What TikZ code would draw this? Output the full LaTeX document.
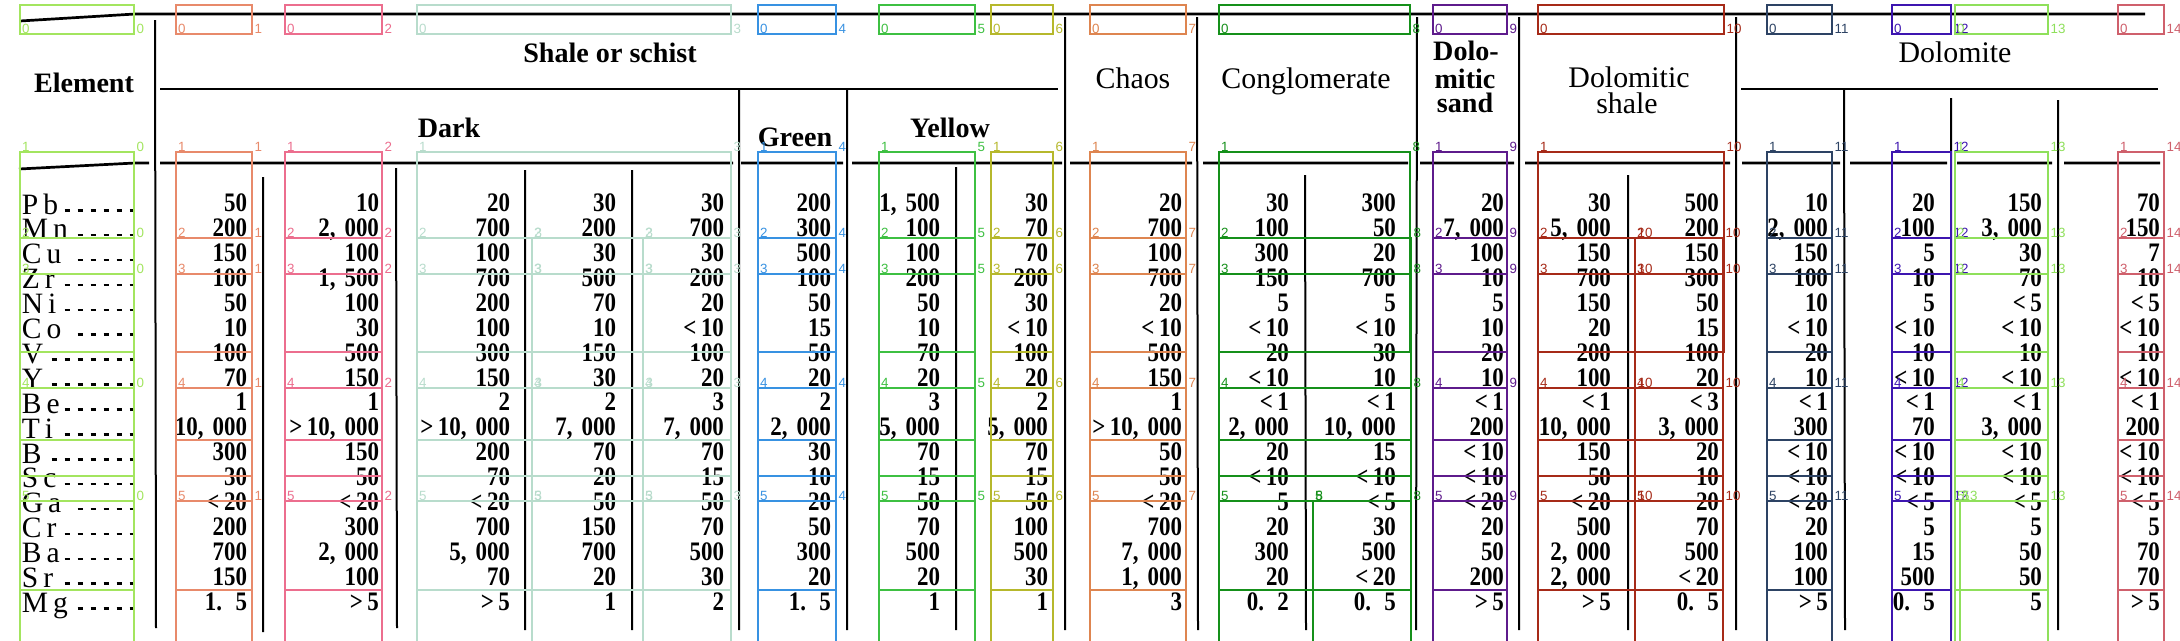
\documentclass[tikz,border=0pt]{standalone}
\usepackage{fontspec}
\setmainfont{Liberation Serif}
\newfontfamily\numfont[FakeStretch=0.86]{Liberation Serif}
\newfontfamily\tagfont{Liberation Sans}
\usetikzlibrary{matrix}
\definecolor{c0}{HTML}{A3E55F}
\definecolor{c1}{HTML}{E88A6B}
\definecolor{c2}{HTML}{EC6E8E}
\definecolor{c3}{HTML}{B8DCCC}
\definecolor{c4}{HTML}{3892E2}
\definecolor{c5}{HTML}{3EC042}
\definecolor{c6}{HTML}{B6B82C}
\definecolor{c7}{HTML}{DE8550}
\definecolor{c8}{HTML}{15901A}
\definecolor{c9}{HTML}{5E1B8C}
\definecolor{c10}{HTML}{A62A18}
\definecolor{c11}{HTML}{2D4364}
\definecolor{c12}{HTML}{3D15B0}
\definecolor{c13}{HTML}{8FE05B}
\definecolor{c14}{HTML}{CF606C}
\tikzset{
	rule/.style={line width=0.27mm},
	thinrule/.style={line width=0.2mm},
	headbold/.style={font=\bfseries\fontsize{8}{9}\selectfont, inner sep=0pt, anchor=base},
	headtext/.style={font=\fontsize{8.5}{9}\selectfont, inner sep=0pt, anchor=base},
	elem/.style={font=\fontsize{8.4}{9}\selectfont, inner sep=0pt, text height=1.9mm, text depth=0.59mm},
	datum/.style={font=\numfont\bfseries\fontsize{7.6}{8}\selectfont, inner sep=0pt, text height=1.9mm, text depth=0.59mm, align=right},
	cellbox/.style={line width=0.28mm},
	tagtext/.style={font=\tagfont\fontsize{3.8}{4}\selectfont, inner sep=0pt, anchor=base west}
}
\newcommand{\leader}[1]{\makebox[12.8mm][l]{#1\leaders\hbox to 1.3mm{\hss\rule[0.25mm]{0.55mm}{0.26mm}\hss}\hfill}}
\newcommand{\tagbox}[7]{% colour, left, right, top, bottom, row, column
	\draw[cellbox, #1] (#2,#4) rectangle (#3,#5);
	\node[tagtext, text=#1] (tag-#6-#7-l) at (#2+1.5,#4-1) {#6};
	\node[tagtext, text=#1] (tag-#6-#7-r) at (#3+2,#4-1) {#7};
}
\newcommand{\tagtop}[4]{% colour, left, right, column
	\draw[cellbox, #1] (#2,5) rectangle (#3,34);
	\node[tagtext, text=#1] (tag-0-#4-l) at (#2+1.5,33) {0};
	\node[tagtext, text=#1] (tag-0-#4-r) at (#3+2,33) {#4};
}
\newcommand{\tagcol}[4]{
	\tagtop{#1}{#2}{#3}{#4}
	\tagbox{#1}{#2}{#3}{152}{352}{1}{#4}
}
\newcommand{\tagmid}[4]{
	\tagbox{#1}{#2}{#3}{238}{440}{2}{#4}
	\tagbox{#1}{#2}{#3}{274}{476}{3}{#4}
	\tagbox{#1}{#2}{#3}{388}{590}{4}{#4}
}
\newcommand{\taglast}[4]{
	\tagbox{#1}{#2}{#3}{501}{650}{5}{#4}
}
\begin{document}
\begin{tikzpicture}[x=0.1mm, y=-0.1mm, ampersand replacement=\&]
	\fill[white] (0,0) rectangle (2180,640);
	\useasboundingbox (0,0) rectangle (2180,640);

	% Rules of the table are drawn
	\draw[rule] (20,21) -- (135,14) -- (2145,14);
	\draw[rule] (19,169) -- (135,163) -- (149,163)
		(160,163) -- (733,163) (741,163) -- (843,163) (852,163) -- (1062,163)
		(1070,163) -- (1192,163) (1203,163) -- (1408,163) (1420,163) -- (1514,163)
		(1525,163) -- (1730,163) (1742,163) -- (1840,163) (1850,163) -- (1947,163)
		(1957,163) -- (2052,163) (2064,163) -- (2160,163);
	\draw[rule] (160,89) -- (1058,89) (1741,89) -- (2158,89);
	\draw[thinrule] (155,20) -- (156,628) (263,177) -- (263,632) (396,168) -- (397,628)
		(525,170) -- (525,630) (632,170) -- (632,630) (739,90) -- (739,630)
		(847,90) -- (847,630) (956,167) -- (956,630) (1065,17) -- (1065,630)
		(1197,17) -- (1198,630) (1305,175) -- (1306,630) (1417,17) -- (1416,630)
		(1519,17) -- (1519,630) (1628,175) -- (1628,630) (1736,17) -- (1736,630)
		(1844,90) -- (1845,630) (1951,98) -- (1951,630) (2058,100) -- (2058,630);

	% Column heads
	\node[headbold] (element-head) at (84,92) {Element};
	\node[headbold] (shale-head) at (610,62) {Shale or schist};
	\node[headbold] (dark-head) at (449,137) {Dark};
	\node[headbold] (green-head) at (795,146) {Green};
	\node[headbold] (yellow-head) at (950,137) {Yellow};
	\node[headtext] (chaos-head) at (1133,88) {Chaos};
	\node[headtext] (congl-head) at (1306,88) {Conglomerate};
	\node[headbold] (dsand-head-1) at (1466,60) {Dolo-};
	\node[headbold] (dsand-head-2) at (1465,88) {mitic};
	\node[headbold] (dsand-head-3) at (1465,112) {sand};
	\node[headtext] (dshale-head-1) at (1629,87) {Dolomitic};
	\node[headtext] (dshale-head-2) at (1627,113) {shale};
	\node[headtext] (dolomite-head) at (1955,62) {Dolomite};

	% Elements
	\matrix (element) [matrix of nodes, anchor=north west, inner sep=0pt, outer sep=0pt,
			row sep=0pt, nodes=elem] at (22,195) {
		\leader{P\,b} \\ \leader{M\,n} \\ \leader{C\,u} \\ \leader{Z\,r} \\ \leader{N\,i} \\ %element-1-1 to 5-1
		\leader{C\,o} \\ \leader{V} \\ \leader{Y} \\ \leader{B\,e} \\ \leader{T\,i} \\ %element-6-1 to 10-1
		\leader{B} \\ \leader{S\,c} \\ \leader{G\,a} \\ \leader{C\,r} \\ \leader{B\,a} \\ %element-11-1 to 15-1
		\leader{S\,r} \\ \leader{M\,g} \\ %element-16-1 to 17-1
	};

	% Values
	\matrix (values) [matrix of nodes, anchor=north west, inner sep=0pt, outer sep=0pt,
			row sep=0pt, column sep=0pt, nodes=datum,
			column 1/.style={nodes={text width=8.7mm}}, column 2/.style={nodes={text width=13.2mm}},
			column 3/.style={nodes={text width=13.1mm}}, column 4/.style={nodes={text width=10.6mm}},
			column 5/.style={nodes={text width=10.8mm}}, column 6/.style={nodes={text width=10.7mm}},
			column 7/.style={nodes={text width=10.9mm}}, column 8/.style={nodes={text width=10.8mm}},
			column 9/.style={nodes={text width=13.4mm}}, column 10/.style={nodes={text width=10.7mm}},
			column 11/.style={nodes={text width=10.7mm}}, column 12/.style={nodes={text width=10.8mm}},
			column 13/.style={nodes={text width=10.7mm}}, column 14/.style={nodes={text width=10.8mm}},
			column 15/.style={nodes={text width=10.9mm}}, column 16/.style={nodes={text width=10.7mm}},
			column 17/.style={nodes={text width=10.7mm}}, column 18/.style={nodes={text width=11.8mm}}]
			at (160,192.7) {
		50 \& 10 \& 20 \& 30 \& 30 \& 200 \& 1, 500 \& 30 \& 20 \& 30 \& 300 \& 20 \& 30 \& 500 \& 10 \& 20 \& 150 \& 70 \\ %Pb
		200 \& 2, 000 \& 700 \& 200 \& 700 \& 300 \& 100 \& 70 \& 700 \& 100 \& 50 \& 7, 000 \& 5, 000 \& 200 \& 2, 000 \& 100 \& 3, 000 \& 150 \\ %Mn
		150 \& 100 \& 100 \& 30 \& 30 \& 500 \& 100 \& 70 \& 100 \& 300 \& 20 \& 100 \& 150 \& 150 \& 150 \& 5 \& 30 \& 7 \\ %Cu
		100 \& 1, 500 \& 700 \& 500 \& 200 \& 100 \& 200 \& 200 \& 700 \& 150 \& 700 \& 10 \& 700 \& 300 \& 100 \& 10 \& 70 \& 10 \\ %Zr
		50 \& 100 \& 200 \& 70 \& 20 \& 50 \& 50 \& 30 \& 20 \& 5 \& 5 \& 5 \& 150 \& 50 \& 10 \& 5 \& <\,5 \& <\,5 \\ %Ni
		10 \& 30 \& 100 \& 10 \& <\,10 \& 15 \& 10 \& <\,10 \& <\,10 \& <\,10 \& <\,10 \& 10 \& 20 \& 15 \& <\,10 \& <\,10 \& <\,10 \& <\,10 \\ %Co
		100 \& 500 \& 300 \& 150 \& 100 \& 50 \& 70 \& 100 \& 500 \& 20 \& 30 \& 20 \& 200 \& 100 \& 20 \& 10 \& 10 \& 10 \\ %V
		70 \& 150 \& 150 \& 30 \& 20 \& 20 \& 20 \& 20 \& 150 \& <\,10 \& 10 \& 10 \& 100 \& 20 \& 10 \& <\,10 \& <\,10 \& <\,10 \\ %Y
		1 \& 1 \& 2 \& 2 \& 3 \& 2 \& 3 \& 2 \& 1 \& <\,1 \& <\,1 \& <\,1 \& <\,1 \& <\,3 \& <\,1 \& <\,1 \& <\,1 \& <\,1 \\ %Be
		10, 000 \& >\,10, 000 \& >\,10, 000 \& 7, 000 \& 7, 000 \& 2, 000 \& 5, 000 \& 5, 000 \& >\,10, 000 \& 2, 000 \& 10, 000 \& 200 \& 10, 000 \& 3, 000 \& 300 \& 70 \& 3, 000 \& 200 \\ %Ti
		300 \& 150 \& 200 \& 70 \& 70 \& 30 \& 70 \& 70 \& 50 \& 20 \& 15 \& <\,10 \& 150 \& 20 \& <\,10 \& <\,10 \& <\,10 \& <\,10 \\ %B
		30 \& 50 \& 70 \& 20 \& 15 \& 10 \& 15 \& 15 \& 50 \& <\,10 \& <\,10 \& <\,10 \& 50 \& 10 \& <\,10 \& <\,10 \& <\,10 \& <\,10 \\ %Sc
		<\,20 \& <\,20 \& <\,20 \& 50 \& 50 \& 20 \& 50 \& 50 \& <\,20 \& 5 \& <\,5 \& <\,20 \& <\,20 \& 20 \& <\,20 \& <\,5 \& <\,5 \& <\,5 \\ %Ga
		200 \& 300 \& 700 \& 150 \& 70 \& 50 \& 70 \& 100 \& 700 \& 20 \& 30 \& 20 \& 500 \& 70 \& 20 \& 5 \& 5 \& 5 \\ %Cr
		700 \& 2, 000 \& 5, 000 \& 700 \& 500 \& 300 \& 500 \& 500 \& 7, 000 \& 300 \& 500 \& 50 \& 2, 000 \& 500 \& 100 \& 15 \& 50 \& 70 \\ %Ba
		150 \& 100 \& 70 \& 20 \& 30 \& 20 \& 20 \& 30 \& 1, 000 \& 20 \& <\,20 \& 200 \& 2, 000 \& <\,20 \& 100 \& 500 \& 50 \& 70 \\ %Sr
		1. 5 \& >\,5 \& >\,5 \& 1 \& 2 \& 1. 5 \& 1 \& 1 \& 3 \& 0. 2 \& 0. 5 \& >\,5 \& >\,5 \& 0. 5 \& >\,5 \& 0. 5 \& 5 \& >\,5 \\ %Mg
	};

	% Detected cells are drawn over the table
	\tagcol{c0}{20}{134}{0} \tagmid{c0}{20}{134}{0} \taglast{c0}{20}{134}{0}
	\tagcol{c1}{176}{252}{1} \tagmid{c1}{176}{252}{1} \taglast{c1}{176}{252}{1}
	\tagcol{c2}{285}{382}{2} \tagmid{c2}{285}{382}{2} \taglast{c2}{285}{382}{2}
	% Dark cells split in three from row 2
	\tagcol{c3}{417}{731}{3}
	\tagmid{c3}{417}{532}{3} \tagmid{c3}{532}{643}{3} \tagmid{c3}{643}{731}{3}
	\taglast{c3}{417}{532}{3} \taglast{c3}{532}{643}{3} \taglast{c3}{643}{731}{3}
	\tagcol{c4}{758}{836}{4} \tagmid{c4}{758}{836}{4} \taglast{c4}{758}{836}{4}
	\tagcol{c5}{879}{975}{5} \tagmid{c5}{879}{975}{5} \taglast{c5}{879}{975}{5}
	\tagcol{c6}{991}{1053}{6} \tagmid{c6}{991}{1053}{6} \taglast{c6}{991}{1053}{6}
	\tagcol{c7}{1090}{1186}{7} \tagmid{c7}{1090}{1186}{7} \taglast{c7}{1090}{1186}{7}
	% Conglomerate cell split in row 5
	\tagcol{c8}{1219}{1410}{8} \tagmid{c8}{1219}{1411}{8}
	\taglast{c8}{1219}{1313}{8} \taglast{c8}{1313}{1411}{8}
	\tagcol{c9}{1433}{1507}{9} \tagmid{c9}{1433}{1507}{9} \taglast{c9}{1433}{1507}{9}
	% Dolomitic shale cells split in two from row 2
	\tagcol{c10}{1538}{1724}{10}
	\tagmid{c10}{1538}{1635}{10} \tagmid{c10}{1635}{1723}{10}
	\taglast{c10}{1538}{1635}{10} \taglast{c10}{1635}{1723}{10}
	\tagcol{c11}{1767}{1832}{11} \tagmid{c11}{1767}{1832}{11} \taglast{c11}{1767}{1832}{11}
	\tagcol{c12}{1892}{1951}{12} \tagmid{c12}{1892}{1951}{12} \taglast{c12}{1892}{1951}{12}
	\tagcol{c13}{1955}{2048}{13} \tagmid{c13}{1955}{2048}{13}
	\taglast{c13}{1955}{1960}{13} \taglast{c13}{1960}{2048}{13}
	\tagcol{c14}{2118}{2164}{14} \tagmid{c14}{2118}{2164}{14} \taglast{c14}{2118}{2164}{14}
\end{tikzpicture}
\end{document}
